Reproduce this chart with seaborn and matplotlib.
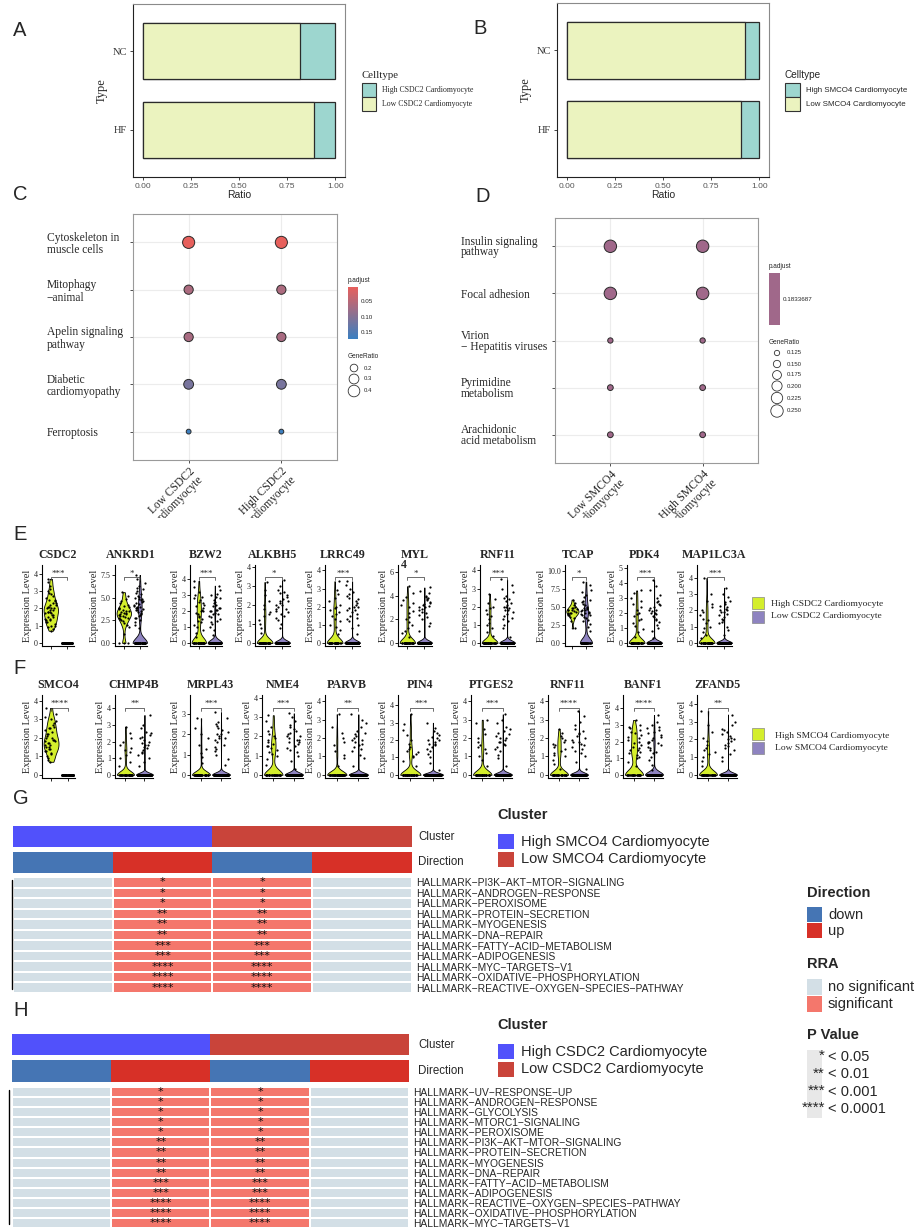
import numpy as np
import pandas as pd
import matplotlib
matplotlib.use('Agg')
import matplotlib.pyplot as plt
import seaborn as sns
from matplotlib.colors import LinearSegmentedColormap, ListedColormap, Normalize
from matplotlib.patches import Rectangle
from matplotlib.transforms import Bbox, TransformedBbox

np.random.seed(3)

#------------- data : panel A / B (cell ratio) -------------#
types = ['NC', 'HF']
a_low = [0.815, 0.89]
a_high = [0.185, 0.11]
b_low = [0.925, 0.905]
b_high = [0.075, 0.095]

#------------- data : panel C / D (KEGG dot plots) -------------#
c_terms = ['Cytoskeleton in\nmuscle cells', 'Mitophagy\n\u2212animal', 'Apelin signaling\npathway',
           'Diabetic\ncardiomyopathy', 'Ferroptosis']
c_groups = ['Low CSDC2\nCardiomyocyte', 'High CSDC2\nCardiomyocyte']
c_padj = [0.004, 0.062, 0.066, 0.112, 0.17]
c_ratio = [0.43, 0.27, 0.27, 0.30, 0.11]

d_terms = ['Insulin signaling\npathway', 'Focal adhesion', 'Virion\n\u2212 Hepatitis viruses',
           'Pyrimidine\nmetabolism', 'Arachidonic\nacid metabolism']
d_groups = ['Low SMCO4\nCardiomyocyte', 'High SMCO4\nCardiomyocyte']
d_padj = 0.1833687
d_ratio = [0.25, 0.25, 0.125, 0.13, 0.13]

#------------- data : panel E (CSDC2 violins) -------------#
e_genes = ['CSDC2', 'ANKRD1', 'BZW2', 'ALKBH5', 'LRRC49', 'MYL', 'RNF11', 'TCAP', 'PDK4', 'MAP1LC3A']
e_sig = ['***', '*', '***', '*', '***', '*', '***', '*', '***', '***']
e_ymax = [4.5, 8.6, 4.9, 4.1, 4.3, 6.6, 4.3, 10.8, 5.2, 4.8]
e_ticks = [[0, 1, 2, 3, 4], [0, 2.5, 5, 7.5], [0, 1, 2, 3, 4], [0, 1, 2, 3, 4], [0, 1, 2, 3, 4],
           [0, 2, 4, 6], [0, 1, 2, 3, 4], [0, 2.5, 5, 7.5, 10], [0, 1, 2, 3, 4, 5], [0, 1, 2, 3, 4]]
e_high_zero = [0, 3, 30, 40, 35, 35, 35, 0, 35, 35]
e_high = [
    '0.7 0.8 0.9 1.0 1.0 1.1 1.2 1.2 1.3 1.3 1.4 1.4 1.5 1.5 1.6 1.6 1.7 1.7 1.8 1.8 1.8 1.9 1.9 2.0 2.0 2.0 2.1 2.1 2.2 2.2 2.3 2.3 2.4 2.5 2.5 2.6 2.7 2.8 2.9 3.0 3.1 3.3 3.5 3.7',
    '1.0 1.8 2.0 2.2 2.4 2.5 2.6 2.7 2.8 2.9 3.0 3.0 3.1 3.2 3.2 3.3 3.3 3.4 3.5 3.5 3.6 3.7 3.8 3.9 4.0 4.1 4.2 4.4 4.6 4.9 5.2 5.6',
    '0.4 0.6 0.8 1.0 1.1 1.3 1.4 1.5 1.6 1.7 1.8 1.9 2.0 2.0 2.1 2.2 2.3 2.4 2.5 2.6 2.7 2.8 2.9 3.0 3.2 3.5 3.9',
    '0.5 0.8 1.0 1.2 1.4 1.5 1.6 1.8 2.0 2.2 2.5 2.8 3.2',
    '0.5 0.7 0.9 1.0 1.2 1.3 1.5 1.6 1.7 1.8 1.9 2.0 2.1 2.3 2.5 2.7 2.9 3.4',
    '0.5 0.8 1.0 1.3 1.5 1.8 2.0 2.2 2.5 2.7 3.0 3.2 3.4 3.6 3.9 4.2 4.8',
    '0.4 0.6 0.8 1.0 1.1 1.3 1.5 1.6 1.8 1.9 2.0 2.2 2.4 2.7',
    '2.0 3.0 3.4 3.6 3.8 3.9 4.0 4.1 4.2 4.2 4.3 4.4 4.5 4.5 4.6 4.7 4.8 4.9 5.0 5.2 5.5 6.0',
    '0.4 0.7 0.9 1.1 1.3 1.5 1.6 1.8 1.9 2.0 2.2 2.4 2.6 2.8 3.0 3.3 3.5',
    '0.3 0.5 0.7 0.9 1.0 1.2 1.4 1.5 1.7 1.9 2.0 2.2 2.4 2.6 3.0 4.0',
]
e_low_zero = [60, 60, 120, 200, 200, 200, 200, 40, 200, 200]
e_low = [
    '',
    '1.6 2.0 2.3 2.5 2.7 2.8 3.0 3.1 3.2 3.3 3.4 3.5 3.6 3.6 3.7 3.8 3.9 4.0 4.0 4.1 4.2 4.3 4.4 4.5 4.6 4.7 4.8 4.9 5.0 5.1 5.2 5.4 5.5 5.7 5.9 6.1 6.3 6.6 7.0 7.5',
    '0.5 0.8 1.0 1.2 1.3 1.4 1.5 1.6 1.7 1.8 1.8 1.9 2.0 2.0 2.1 2.1 2.2 2.2 2.3 2.4 2.5 2.6 2.7 2.8 2.9 3.0 3.1 3.3 3.6',
    '0.8 1.0 1.2 1.3 1.4 1.5 1.6 1.7 1.8 1.8 1.9 2.0 2.0 2.1 2.2 2.2 2.3 2.4 2.5 2.6 2.7 2.8 3.0 3.3',
    '0.5 0.8 1.0 1.2 1.3 1.4 1.5 1.6 1.7 1.8 1.8 1.9 2.0 2.0 2.1 2.2 2.3 2.4 2.5 2.6 2.7 2.8 3.0 3.2 3.4',
    '1.0 1.4 1.7 2.0 2.2 2.4 2.5 2.6 2.8 2.9 3.0 3.0 3.1 3.2 3.3 3.4 3.5 3.6 3.7 3.8 3.9 4.0 4.2 4.4 4.7',
    '0.3 0.8 1.0 1.2 1.3 1.4 1.5 1.6 1.7 1.8 1.8 1.9 2.0 2.0 2.1 2.2 2.3 2.4 2.5 2.6 2.8 3.0 3.2 3.5',
    '1.7 2.2 2.6 3.0 3.2 3.4 3.6 3.8 3.9 4.0 4.1 4.2 4.3 4.4 4.5 4.6 4.7 4.8 4.9 5.0 5.2 5.4 5.6 5.8 6.0 6.3 6.6 7.0 7.4 8.0 8.5',
    '0.3 0.8 1.0 1.2 1.4 1.5 1.6 1.7 1.8 1.9 2.0 2.0 2.1 2.2 2.2 2.3 2.4 2.5 2.6 2.7 2.8 3.0 3.2 3.5 3.8 4.2',
    '0.5 0.8 1.0 1.2 1.3 1.4 1.5 1.6 1.7 1.8 1.9 1.9 2.0 2.0 2.1 2.2 2.3 2.4 2.5 2.6 2.8 3.0 3.4',
]
e_left = [42, 115, 190, 255, 325, 398, 480, 565, 627, 697]
e_right = [74, 147, 222, 290, 360, 432, 515, 592, 662, 732]

#------------- data : panel F (SMCO4 violins) -------------#
f_genes = ['SMCO4', 'CHMP4B', 'MRPL43', 'NME4', 'PARVB', 'PIN4', 'PTGES2', 'RNF11', 'BANF1', 'ZFAND5']
f_sig = ['****', '**', '***', '***', '**', '***', '***', '****', '****', '**']
f_ymax = [4.3, 4.8, 3.95, 4.15, 4.35, 4.6, 4.35, 4.35, 4.8, 4.5]
f_ticks = [[0, 1, 2, 3, 4]] * 2 + [[0, 1, 2, 3]] + [[0, 1, 2, 3, 4]] * 7
f_high_zero = [0, 35, 45, 30, 45, 35, 35, 30, 25, 35]
f_high = [
    '0.7 0.8 0.9 1.0 1.1 1.2 1.3 1.3 1.4 1.4 1.5 1.5 1.6 1.6 1.7 1.7 1.8 1.8 1.9 1.9 2.0 2.0 2.1 2.2 2.2 2.3 2.4 2.5 2.5 2.6 2.7 2.8 2.9 3.0 3.1 3.3 3.6',
    '0.5 0.8 1.0 1.2 1.4 1.5 1.6 1.8 2.0 2.2 2.5 2.9',
    '0.6 0.9 1.1 1.3 1.5 1.8 2.0 2.3 2.8',
    '0.5 0.8 1.0 1.1 1.2 1.3 1.4 1.5 1.5 1.6 1.7 1.8 1.9 2.0 2.1 2.3 2.5 2.8 3.1',
    '0.5 0.9 1.1 1.3 1.6 1.8 2.0 2.3 2.6 3.3',
    '0.5 0.8 1.0 1.1 1.2 1.3 1.4 1.5 1.6 1.8 2.0 2.3 2.6 2.9 3.5',
    '0.5 0.8 1.0 1.2 1.4 1.5 1.6 1.8 2.0 2.2 2.5 2.8 3.0',
    '0.3 0.6 0.8 1.0 1.1 1.2 1.3 1.4 1.5 1.6 1.7 1.8 1.9 2.0 2.1 2.3 2.5',
    '0.5 0.8 1.0 1.1 1.2 1.3 1.4 1.5 1.5 1.6 1.7 1.8 1.9 2.0 2.1 2.2 2.3 2.4 2.5 2.6 2.7 2.8 2.9 3.0 3.3',
    '0.5 0.8 1.0 1.2 1.3 1.4 1.5 1.7 1.9 2.1 2.4 2.8 3.6',
]
f_low_zero = [60, 200, 200, 200, 200, 200, 200, 200, 100, 200]
f_low = [
    '',
    '0.5 0.8 1.0 1.2 1.3 1.4 1.5 1.6 1.7 1.8 1.8 1.9 2.0 2.1 2.2 2.3 2.4 2.5 2.6 2.8 3.0 3.6',
    '0.5 0.8 1.0 1.2 1.3 1.4 1.5 1.6 1.7 1.8 1.8 1.9 2.0 2.0 2.1 2.2 2.3 2.4 2.5 2.6 2.8 3.1',
    '0.3 0.7 1.0 1.2 1.3 1.4 1.5 1.6 1.7 1.7 1.8 1.8 1.9 2.0 2.0 2.1 2.2 2.3 2.4 2.5 2.6 2.8 3.0 3.2',
    '0.5 0.9 1.1 1.3 1.4 1.5 1.6 1.7 1.8 1.9 1.9 2.0 2.1 2.2 2.3 2.4 2.6 2.8 3.0 3.3',
    '0.3 0.7 1.0 1.2 1.4 1.5 1.6 1.7 1.8 1.8 1.9 2.0 2.0 2.1 2.2 2.3 2.4 2.5 2.7 3.0',
    '0.5 0.9 1.1 1.3 1.4 1.5 1.6 1.7 1.8 1.8 1.9 2.0 2.0 2.1 2.2 2.3 2.4 2.5 2.6 2.8 3.0 3.3',
    '0.3 0.7 1.0 1.2 1.3 1.4 1.5 1.6 1.7 1.8 1.8 1.9 2.0 2.1 2.2 2.3 2.4 2.5 2.7 2.9 3.2 3.5',
    '0.3 0.6 0.9 1.1 1.3 1.4 1.5 1.6 1.7 1.8 1.9 1.9 2.0 2.0 2.1 2.2 2.3 2.4 2.5 2.6 2.7 2.8 2.9 3.0 3.2 3.6',
    '0.8 1.0 1.2 1.4 1.5 1.6 1.7 1.8 1.9 2.0 2.0 2.1 2.2 2.3 2.4 2.5 2.6 2.8 3.0 3.4',
]
f_left = [42, 115, 190, 262, 325, 398, 471, 548, 623, 697]
f_right = [75, 153, 230, 303, 368, 443, 512, 588, 663, 737]

#------------- data : panel G / H (hallmark RRA heatmaps) -------------#
hm_cluster = ['High', 'High', 'Low', 'Low']
hm_direction = ['down', 'up', 'down', 'up']
hm_sig_cols = [0, 1, 1, 0]
g_terms = ['HALLMARK-PI3K-AKT-MTOR-SIGNALING', 'HALLMARK-ANDROGEN-RESPONSE', 'HALLMARK-PEROXISOME',
           'HALLMARK-PROTEIN-SECRETION', 'HALLMARK-MYOGENESIS', 'HALLMARK-DNA-REPAIR',
           'HALLMARK-FATTY-ACID-METABOLISM', 'HALLMARK-ADIPOGENESIS', 'HALLMARK-MYC-TARGETS-V1',
           'HALLMARK-OXIDATIVE-PHOSPHORYLATION', 'HALLMARK-REACTIVE-OXYGEN-SPECIES-PATHWAY']
g_stars = ['*', '*', '*', '**', '**', '**', '***', '***', '****', '****', '****']
h_terms = ['HALLMARK-UV-RESPONSE-UP', 'HALLMARK-ANDROGEN-RESPONSE', 'HALLMARK-GLYCOLYSIS',
           'HALLMARK-MTORC1-SIGNALING', 'HALLMARK-PEROXISOME', 'HALLMARK-PI3K-AKT-MTOR-SIGNALING',
           'HALLMARK-PROTEIN-SECRETION', 'HALLMARK-MYOGENESIS', 'HALLMARK-DNA-REPAIR',
           'HALLMARK-FATTY-ACID-METABOLISM', 'HALLMARK-ADIPOGENESIS',
           'HALLMARK-REACTIVE-OXYGEN-SPECIES-PATHWAY', 'HALLMARK-OXIDATIVE-PHOSPHORYLATION',
           'HALLMARK-MYC-TARGETS-V1']
h_stars = ['*'] * 5 + ['**'] * 4 + ['***'] * 2 + ['****'] * 3

#------------- colours -------------#
TEAL, CREAM = '#9dd6cf', '#ebf3bf'
VLN = {'High': '#d4ee2c', 'Low': '#8e83c0'}
CLU_BLUE, CLU_RED = '#5151fb', '#c9443a'
DIR_DOWN, DIR_UP = '#4575b4', '#d73027'
RRA_NO, RRA_SIG = '#d3dfe6', '#f4776c'
DOT_D = '#a0688a'

sns.set_theme(style='white')
plt.rcParams['font.family'] = ['Liberation Sans', 'DejaVu Sans']
SERIF = 'Liberation Serif'

W, H = 920, 1231
fig = plt.figure(figsize=(W / 100, H / 100), dpi=100)


def px_ax(l, t, r, b):
    return fig.add_axes([l / W, 1 - b / H, (r - l) / W, (b - t) / H])


def nums(s):
    return [float(v) for v in s.split()]


#------------------------- A / B : stacked ratio bars -------------------------#
def ratio_panel(l, t, r, b, low, high):
    ax = px_ax(l, t, r, b)
    df = pd.DataFrame({'Type': types, 'low': low, 'total': np.add(low, high)})
    sns.barplot(data=df, x='total', y='Type', color=TEAL, saturation=1, width=0.71,
                edgecolor='#2b2b2b', linewidth=0.9, errorbar=None, ax=ax)
    sns.barplot(data=df, x='low', y='Type', color=CREAM, saturation=1, width=0.71,
                edgecolor='#2b2b2b', linewidth=0.9, errorbar=None, ax=ax)
    ax.set_xlim(-0.05, 1.05)
    ax.set_ylim(1.6, -0.6)
    ax.set_xticks([0, 0.25, 0.5, 0.75, 1.0], labels=['0.00', '0.25', '0.50', '0.75', '1.00'])
    ax.tick_params(axis='x', labelsize=6, labelcolor='#555555', length=2.5, width=0.6, pad=2, bottom=True)
    ax.tick_params(axis='y', labelsize=7.5, labelcolor='#333333', length=2.5, width=0.6, pad=2, left=True)
    for lab in ax.get_yticklabels():
        lab.set_fontfamily(SERIF)
    ax.set_xlabel('Ratio', fontsize=7.5, labelpad=0)
    ax.set_ylabel('Type', fontsize=9, fontfamily=SERIF, labelpad=3)
    for s in ax.spines.values():
        s.set_color('#8a8a8a')
        s.set_linewidth(0.8)
    ax.spines['left'].set_color('#222222')
    ax.spines['bottom'].set_color('#222222')
    return ax


ratio_panel(133, 4, 345, 177, a_low, a_high)
ratio_panel(557, 3, 769, 177, b_low, b_high)

#------------------------- C / D : dot plots -------------------------#
c_cmap = LinearSegmentedColormap.from_list('padj', ['#e8605c', '#3a7fc1'])
c_norm = Normalize(0.003, 0.173)


def dot_axes_style(ax, terms, groups, ypad, spacing):
    ax.set_xlim(-0.6, 1.6)
    ax.set_ylim(4.6, -0.6)
    ax.grid(True, color='#ececec', lw=0.8)
    ax.set_axisbelow(True)
    for s in ax.spines.values():
        s.set_visible(True)
        s.set_color('#9a9a9a')
        s.set_linewidth(0.8)
    ax.set_xlabel('')
    ax.set_ylabel('')
    ax.set_yticks(range(len(terms)), labels=terms, fontfamily=SERIF, fontsize=8.3,
                  ha='left', linespacing=spacing)
    ax.set_xticks(range(len(groups)), labels=groups, fontfamily=SERIF, fontsize=8.3,
                  rotation=45, ha='right', va='top', rotation_mode='anchor', linespacing=1.0)
    ax.tick_params(axis='y', length=2, width=0.6, color='#333333', pad=ypad, left=True)
    ax.tick_params(axis='x', length=2, width=0.6, color='#333333', pad=2, bottom=True)
    clip = TransformedBbox(Bbox([[0, 1 - 518 / H], [1, 1]]), fig.transFigure)
    for lab in ax.get_xticklabels():
        lab.set_clip_box(clip)
        lab.set_clip_on(True)


C_SIZES, C_SNORM = (10, 80), (0.1, 0.45)
axc = px_ax(133, 214, 337, 460)
cdf = pd.DataFrame({'term': np.tile(c_terms, 2), 'group': np.repeat(c_groups, len(c_terms)),
                    'padj': np.tile(c_padj, 2), 'ratio': np.tile(c_ratio, 2)})
sns.scatterplot(data=cdf, x='group', y='term', hue='padj', size='ratio', palette=c_cmap,
                hue_norm=c_norm, sizes=C_SIZES, size_norm=C_SNORM, edgecolor='#2a2a2a',
                linewidth=0.7, legend=False, ax=axc)
dot_axes_style(axc, c_terms, c_groups, 60, 1.05)

D_SIZES, D_SNORM = (12, 80), (0.12, 0.25)
axd = px_ax(555, 218, 758, 463)
ddf = pd.DataFrame({'term': np.tile(d_terms, 2), 'group': np.repeat(d_groups, len(d_terms)),
                    'ratio': np.tile(d_ratio, 2)})
sns.scatterplot(data=ddf, x='group', y='term', size='ratio', color=DOT_D, sizes=D_SIZES,
                size_norm=D_SNORM, edgecolor='#2a2a2a', linewidth=0.7, legend=False, ax=axd)
dot_axes_style(axd, d_terms, d_groups, 66, 0.85)

# p.adjust colour bars
cax = px_ax(348, 287, 358, 339)
cb = fig.colorbar(plt.cm.ScalarMappable(cmap=c_cmap, norm=c_norm), cax=cax)
cax.invert_yaxis()
cb.set_ticks([0.05, 0.10, 0.15], labels=['0.05', '0.10', '0.15'])
cb.outline.set_visible(False)
cax.tick_params(length=2, color='white', direction='in', labelsize=4.5, pad=2, width=0.6)

dax = px_ax(769, 273, 780, 325)
cb2 = fig.colorbar(plt.cm.ScalarMappable(cmap=ListedColormap([DOT_D]), norm=Normalize(0.18, 0.1867)), cax=dax)
cb2.set_ticks([d_padj], labels=['0.1833687'])
cb2.outline.set_visible(False)
dax.tick_params(length=2, color='white', direction='in', labelsize=4.5, pad=2, width=0.6)

#------------------------- E / F : violin rows -------------------------#
ORDER = ['High', 'Low']


def violin(l, r, t, b, title, high, hz, low, lz, ymax, ticks, sig):
    ax = px_ax(l, t, r, b)
    hv = np.concatenate([np.zeros(hz), nums(high)])
    lv = np.concatenate([np.zeros(lz), nums(low)])
    df = pd.DataFrame({'grp': ['High'] * len(hv) + ['Low'] * len(lv), 'val': np.concatenate([hv, lv])})
    vdf = df[df.groupby('grp')['val'].transform('nunique') > 1]
    sns.violinplot(data=vdf, x='grp', y='val', hue='grp', order=ORDER, hue_order=ORDER, palette=VLN,
                   density_norm='width', cut=0, bw_adjust=0.6, inner=None, width=0.9, saturation=1,
                   linewidth=0.6, linecolor='black', legend=False, ax=ax)
    sns.stripplot(data=df, x='grp', y='val', order=ORDER, color='black', size=1.6, jitter=0.36,
                  ax=ax)
    ax.set_xlim(-0.55, 1.45)
    ax.set_ylim(-0.04 * ymax, ymax)
    yb = 0.84 * ymax
    ax.plot([0, 0, 1, 1], [yb - 0.035 * ymax, yb, yb, yb - 0.035 * ymax], color='#333333', lw=0.5)
    ax.text(0.5, yb, sig, ha='center', va='bottom', fontsize=6.5, fontfamily=SERIF)
    labs = [f'{v:.1f}' if any(x % 1 for x in ticks) else f'{v:g}' for v in ticks]
    ax.set_yticks(ticks, labels=labs)
    ax.set_xticks([0, 1], labels=['', ''])
    ax.tick_params(axis='both', length=2, width=0.6, color='black', labelsize=5.8, pad=1,
                   left=True, bottom=True)
    for lab in ax.get_yticklabels():
        lab.set_fontfamily(SERIF)
    sns.despine(ax=ax)
    for s in ('left', 'bottom'):
        ax.spines[s].set_color('black')
        ax.spines[s].set_linewidth(0.8)
    ax.set_xlabel('')
    ax.set_ylabel('Expression Level', fontsize=7.5, fontfamily=SERIF, labelpad=1)
    ax.set_title(title, fontsize=8.6, fontweight='bold', fontfamily=SERIF, pad=5)
    return ax


for i, g in enumerate(e_genes):
    ax = violin(e_left[i], e_right[i], 565, 646, g, e_high[i], e_high_zero[i], e_low[i],
                e_low_zero[i], e_ymax[i], e_ticks[i], e_sig[i])
    if g == 'MYL':
        ax.text(0.18, 1.0, '4', transform=ax.transAxes, fontsize=8.6, fontweight='bold',
                fontfamily=SERIF, ha='center', va='center')

for i, g in enumerate(f_genes):
    violin(f_left[i], f_right[i], 695, 778, g, f_high[i], f_high_zero[i], f_low[i],
           f_low_zero[i], f_ymax[i], f_ticks[i], f_sig[i])


#------------------------- G / H : hallmark heatmaps -------------------------#
def hallmark(left, right, clu_tb, dir_tb, body_tb, terms, stars, line_x, line_tb):
    a1 = px_ax(left, clu_tb[0], right, clu_tb[1])
    sns.heatmap(np.array([[ORDER.index(c) for c in hm_cluster]]), cmap=ListedColormap([CLU_BLUE, CLU_RED]),
                vmin=0, vmax=1, cbar=False, xticklabels=False, yticklabels=False, ax=a1)
    a2 = px_ax(left, dir_tb[0], right, dir_tb[1])
    sns.heatmap(np.array([[['down', 'up'].index(d) for d in hm_direction]]),
                cmap=ListedColormap([DIR_DOWN, DIR_UP]), vmin=0, vmax=1, cbar=False,
                xticklabels=False, yticklabels=False, ax=a2)
    a3 = px_ax(left, body_tb[0], right, body_tb[1])
    mat = np.array([hm_sig_cols for _ in terms])
    annot = np.array([[s if c else '' for c in hm_sig_cols] for s in stars])
    sns.heatmap(mat, cmap=ListedColormap([RRA_NO, RRA_SIG]), vmin=0, vmax=1, cbar=False,
                linewidths=1.2, linecolor='white', annot=annot, fmt='',
                annot_kws={'fontsize': 8, 'color': '#111111', 'va': 'center',
                           'fontfamily': 'DejaVu Sans'},
                xticklabels=False, yticklabels=[t.replace('-', '\u2212') for t in terms], ax=a3)
    a3.yaxis.tick_right()
    a3.tick_params(axis='y', length=0, pad=3, labelsize=7.4, rotation=0)
    fig.add_artist(plt.Line2D([line_x / W, line_x / W], [1 - line_tb[0] / H, 1 - line_tb[1] / H],
                              color='black', lw=1.0))


hallmark(13, 412, (826, 847), (852, 873), (877, 993), g_terms, g_stars, 11.5, (880, 989))
hallmark(12, 409, (1034, 1055), (1060, 1082), (1087, 1228), h_terms, h_stars, 9.5, (1090, 1224))

#------------------------- overlay: letters & legends -------------------------#
ov = fig.add_axes([0, 0, 1, 1], zorder=10)
ov.set_xlim(0, W)
ov.set_ylim(H, 0)
ov.axis('off')
ov.patch.set_alpha(0)

for ch, x, y in [('A', 13, 30), ('B', 473, 28), ('C', 13, 195), ('D', 475, 197),
                 ('E', 13, 534), ('F', 13, 668), ('G', 13, 798), ('H', 13, 1011)]:
    ov.text(x, y, ch, fontsize=14.5, ha='left', va='center')


def sq(x, y, w, h, c, ec='#444444', lw=0.6):
    ov.add_patch(Rectangle((x, y), w, h, facecolor=c, edgecolor=ec, lw=lw))


# A / B legends
ov.text(362, 76, 'Celltype', fontsize=7.8, fontfamily=SERIF, va='center')
sq(362, 83, 14, 14, TEAL, '#333333', 0.8)
sq(362, 97, 14, 14, CREAM, '#333333', 0.8)
ov.text(382, 90, 'High CSDC2 Cardiomyocyte', fontsize=5.6, fontfamily=SERIF, va='center')
ov.text(382, 104, 'Low CSDC2 Cardiomyocyte', fontsize=5.6, fontfamily=SERIF, va='center')
ov.text(785, 75, 'Celltype', fontsize=7.2, va='center')
sq(785, 83, 15, 14, TEAL, '#333333', 0.8)
sq(785, 97, 15, 14, CREAM, '#333333', 0.8)
ov.text(806, 90, 'High SMCO4 Cardiomyocyte', fontsize=5.7, va='center')
ov.text(806, 104, 'Low SMCO4 Cardiomyocyte', fontsize=5.7, va='center')

# C / D legends
ov.text(348, 281, 'p.adjust', fontsize=4.7, va='center')
ov.text(348, 356, 'GeneRatio', fontsize=4.7, va='center')
c_leg = [0.2, 0.3, 0.4]
c_norm_s = Normalize(*C_SNORM)
ov.scatter([354] * 3, [368, 379, 391],
           s=[C_SIZES[0] + (C_SIZES[1] - C_SIZES[0]) * c_norm_s(v) for v in c_leg],
           facecolor='white', edgecolor='#333333', lw=0.6)
for v, y in zip(c_leg, [368, 379, 391]):
    ov.text(364, y, f'{v:g}', fontsize=4.3, va='center')
ov.text(769, 267, 'p.adjust', fontsize=4.7, va='center')
ov.text(769, 342, 'GeneRatio', fontsize=4.7, va='center')
d_leg = [0.125, 0.15, 0.175, 0.2, 0.225, 0.25]
d_leg_y = [353, 364, 375, 386, 398, 411]
d_norm_s = Normalize(*D_SNORM)
ov.scatter([777] * 6, d_leg_y,
           s=[D_SIZES[0] + (D_SIZES[1] - D_SIZES[0]) * d_norm_s(v) for v in d_leg],
           facecolor='white', edgecolor='#333333', lw=0.6)
for v, y in zip(d_leg, d_leg_y):
    ov.text(787, y, f'{v:.3f}', fontsize=4.3, va='center')

# E / F legends
sq(752, 597, 12, 12, VLN['High'], '#888888', 0.5)
sq(752, 611, 12, 12, VLN['Low'], '#888888', 0.5)
ov.text(771, 604, 'High CSDC2 Cardiomyocyte', fontsize=6.8, fontfamily=SERIF, va='center')
ov.text(771, 616, 'Low CSDC2 Cardiomyocyte', fontsize=6.8, fontfamily=SERIF, va='center')
sq(752, 728, 12, 12, VLN['High'], '#888888', 0.5)
sq(752, 742, 12, 12, VLN['Low'], '#888888', 0.5)
ov.text(775, 736, 'High SMCO4 Cardiomyocyte', fontsize=6.8, fontfamily=SERIF, va='center')
ov.text(775, 748, 'Low SMCO4 Cardiomyocyte', fontsize=6.8, fontfamily=SERIF, va='center')

# G / H row labels + cluster legends
for y0, lab_y, names in [(815, (837, 862), 'SMCO4'), (1025, (1045, 1071), 'CSDC2')]:
    ov.text(418, lab_y[0], 'Cluster', fontsize=8.3, va='center')
    ov.text(418, lab_y[1], 'Direction', fontsize=8.3, va='center')
    ov.text(497, y0, 'Cluster', fontsize=10.5, fontweight='bold', va='center')
    sq(498, y0 + 19, 16, 15, CLU_BLUE, 'none', 0)
    sq(498, y0 + 37, 16, 15, CLU_RED, 'none', 0)
    ov.text(521, y0 + 27, f'High {names} Cardiomyocyte', fontsize=10.5, va='center')
    ov.text(521, y0 + 44, f'Low {names} Cardiomyocyte', fontsize=10.5, va='center')

# right legends
ov.text(807, 893, 'Direction', fontsize=10.5, fontweight='bold', va='center')
sq(807, 907, 15, 15, DIR_DOWN, 'none', 0)
sq(807, 923, 15, 15, DIR_UP, 'none', 0)
ov.text(828, 915, 'down', fontsize=10.5, va='center')
ov.text(828, 931, 'up', fontsize=10.5, va='center')
ov.text(807, 964, 'RRA', fontsize=10.5, fontweight='bold', va='center')
sq(807, 979, 15, 16, RRA_NO, 'none', 0)
sq(807, 996, 15, 16, RRA_SIG, 'none', 0)
ov.text(828, 987, 'no significant', fontsize=10.5, va='center')
ov.text(828, 1004, 'significant', fontsize=10.5, va='center')
ov.text(807, 1035, 'P Value', fontsize=10.5, fontweight='bold', va='center')
sq(807, 1050, 15, 68, '#e8e8e8', 'none', 0)
for k, (st, lab) in enumerate(zip(['*', '**', '***', '****'], ['< 0.05', '< 0.01', '< 0.001', '< 0.0001'])):
    y = 1057 + k * 17.4
    ov.text(825, y - 1, st, fontsize=11, ha='right', va='center')
    ov.text(828, y, lab, fontsize=10.5, va='center')

fig.savefig('out.png', dpi=100)
